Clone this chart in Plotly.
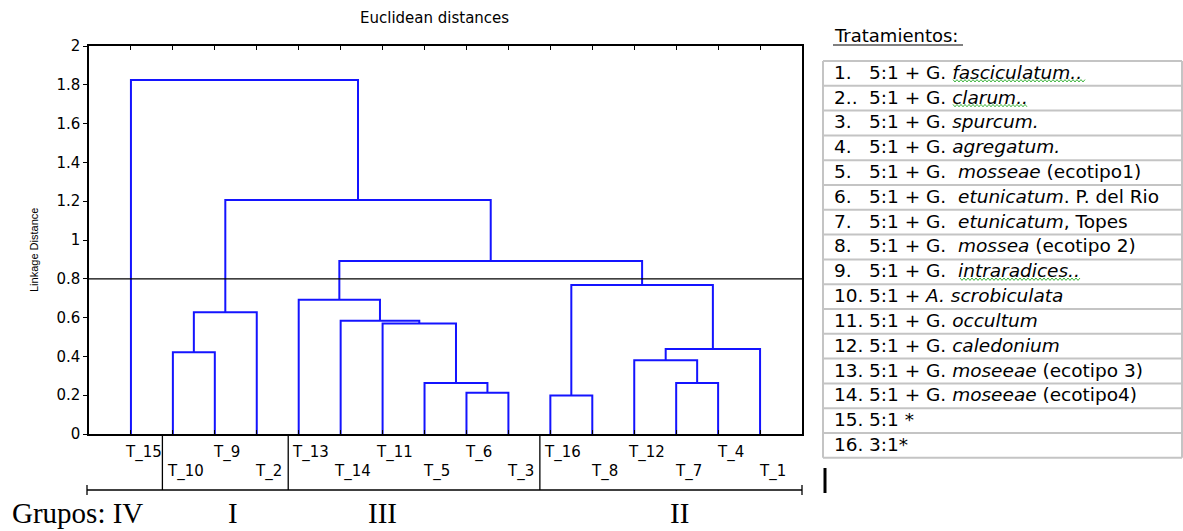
import plotly.graph_objects as go

# ---------------- data ----------------
leaves = ["T_15", "T_10", "T_9", "T_2", "T_13", "T_14", "T_11", "T_5",
          "T_6", "T_3", "T_16", "T_8", "T_12", "T_7", "T_4", "T_1"]

# merges: (left, right, height); ints refer to earlier merges
merge_left = ["T_10", 0, "T_6", "T_5", "T_11", "T_14", "T_13", "T_16", "T_7", "T_12", 9, 7, 6, 1, "T_15"]
merge_right = ["T_9", "T_2", "T_3", 2, 3, 4, 5, "T_8", "T_4", 8, "T_1", 10, 11, 12, 13]
merge_height = [0.421, 0.627, 0.213, 0.263, 0.570, 0.584, 0.692, 0.198,
                0.263, 0.380, 0.438, 0.768, 0.892, 1.206, 1.825]

cut_level = 0.8
y_ticks = [0, 0.2, 0.4, 0.6, 0.8, 1, 1.2, 1.4, 1.6, 1.8, 2]

group_names = ["Grupos: IV", "I", "III", "II"]
group_breaks = [1, 4, 10]  # boundary after these leaf positions

treat_nums = ["1.", "2..", "3.", "4.", "5.", "6.", "7.", "8.", "9.",
              "10.", "11.", "12.", "13.", "14.", "15.", "16."]
treat_texts = [
    "5:1 + G. <i>fasciculatum..</i>",
    "5:1 + G. <i>clarum..</i>",
    "5:1 + G. <i>spurcum.</i>",
    "5:1 + G. <i>agregatum.</i>",
    "5:1 + G.  <i>mosseae</i> (ecotipo1)",
    "5:1 + G.  <i>etunicatum</i>. P. del Rio",
    "5:1 + G.  <i>etunicatum</i>, Topes",
    "5:1 + G.  <i>mossea</i> (ecotipo 2)",
    "5:1 + G.  <i>intraradices..</i>",
    "5:1 + <i>A. scrobiculata</i>",
    "5:1 + G. <i>occultum</i>",
    "5:1 + G. <i>caledonium</i>",
    "5:1 + G. <i>moseeae</i> (ecotipo 3)",
    "5:1 + G. <i>moseeae</i> (ecotipo4)",
    "5:1 *",
    "3:1*",
]
squiggle_rows = [0, 1, 8]

# ---------------- layout geometry ----------------
W, H = 1183, 531
L, R, T, B = 89, 802, 46, 434


def PX(p):
    return (p - L) / (R - L)


def PY(p):
    return (B - p) / (B - T)


BLUE = "#1414ff"
FONT = "DejaVu Sans"

# ---------------- dendrogram ----------------
pos = {name: i + 1 for i, name in enumerate(leaves)}
mx, mh = [], []
xs, ys = [], []


def node(n):
    if isinstance(n, int):
        return mx[n], mh[n]
    return pos[n], 0.0


for a, b, h in zip(merge_left, merge_right, merge_height):
    xa, ha = node(a)
    xb, hb = node(b)
    xs += [xa, xa, xb, xb, None]
    ys += [ha, h, h, hb, None]
    mx.append((xa + xb) / 2)
    mh.append(h)

fig = go.Figure()
fig.add_trace(go.Scatter(x=xs, y=ys, mode="lines",
                         line=dict(color=BLUE, width=2), hoverinfo="skip",
                         showlegend=False))

shapes = []
annotations = []


def note(x, y, text, size, family=FONT, xanchor="center", xref="paper", **kw):
    annotations.append(dict(x=x, xref=xref, y=y, yref="paper", text=text,
                            showarrow=False, xanchor=xanchor, yanchor="middle",
                            font=dict(family=family, size=size, color="black"), **kw))


# cut line
shapes.append(dict(type="line", xref="paper", yref="y", x0=0, x1=1,
                   y0=cut_level, y1=cut_level, line=dict(color="black", width=1.3)))

# leaf labels (staggered)
for i, name in enumerate(leaves):
    row_y = 452 if i % 2 == 0 else 471
    note(pos[name] + 0.29, PY(row_y), name, 15, xref="x")

# group separators
for gb in group_breaks:
    shapes.append(dict(type="line", xref="x", yref="paper", x0=gb + 0.75, x1=gb + 0.75,
                       y0=PY(434), y1=PY(490), line=dict(color="black", width=1.3)))
shapes.append(dict(type="line", xref="paper", yref="paper", x0=PX(87), x1=PX(802),
                   y0=PY(490), y1=PY(490), line=dict(color="black", width=1.3)))
for ex in (87, 802):
    shapes.append(dict(type="line", xref="paper", yref="paper", x0=PX(ex), x1=PX(ex),
                       y0=PY(485), y1=PY(495), line=dict(color="black", width=1.3)))

# group names
group_px = [10, 233, 382, 679]
for gi, (gname, gx) in enumerate(zip(group_names, group_px)):
    note(PX(gx), PY(513), gname, 29, family="Liberation Serif",
         xanchor="left" if gi == 0 else "center")

# title
note(PX(434), PY(18), "Euclidean distances", 15)
# y-axis title
note(PX(34), PY(250), "Linkage Distance", 11, family="Liberation Sans", textangle=-90)

# table
tab_top, row_h = 61, 24.8
tab_l, tab_r = 823, 1182
GRAY = "#c4c4c4"
note(PX(832), PY(35), "Tratamientos:", 18, xanchor="left")
shapes.append(dict(type="line", xref="paper", yref="paper", x0=PX(833), x1=PX(963),
                   y0=PY(45), y1=PY(45), line=dict(color="black", width=1)))
n_rows = len(treat_nums)
for k in range(n_rows + 1):
    yy = tab_top + k * row_h
    shapes.append(dict(type="line", xref="paper", yref="paper", x0=PX(tab_l), x1=PX(tab_r),
                       y0=PY(yy), y1=PY(yy), line=dict(color=GRAY, width=2)))
for ex in (tab_l, tab_r):
    shapes.append(dict(type="line", xref="paper", yref="paper", x0=PX(ex), x1=PX(ex),
                       y0=PY(tab_top), y1=PY(tab_top + n_rows * row_h),
                       line=dict(color=GRAY, width=2)))
for k in range(n_rows):
    yc = tab_top + (k + 0.5) * row_h - 1
    note(PX(832), PY(yc), treat_nums[k], 18.5, xanchor="left")
    note(PX(867), PY(yc), treat_texts[k], 18.5, xanchor="left")

# spell-check squiggles
squig_span = {0: (953, 1085), 1: (953, 1028), 8: (960, 1081)}
for k in squiggle_rows:
    x0, x1 = squig_span[k]
    yb = tab_top + (k + 1) * row_h - 5
    pts = []
    xx = x0
    j = 0
    while xx <= x1:
        pts.append((PX(xx), PY(yb + (1.2 if j % 2 else -1.2))))
        xx += 2
        j += 1
    path = "M " + " L ".join(f"{a:.5f},{b:.5f}" for a, b in pts)
    shapes.append(dict(type="path", xref="paper", yref="paper", path=path,
                       line=dict(color="#3cb43c", width=1)))

# text cursor
shapes.append(dict(type="line", xref="paper", yref="paper", x0=PX(825), x1=PX(825),
                   y0=PY(468), y1=PY(493), line=dict(color="black", width=3)))

fig.update_layout(
    width=W, height=H,
    margin=dict(l=L, r=W - R, t=T, b=H - B, pad=0),
    paper_bgcolor="white", plot_bgcolor="white",
    shapes=shapes, annotations=annotations,
    showlegend=False,
    xaxis=dict(range=[0, len(leaves) + 1], tickvals=list(range(1, len(leaves) + 1)),
               ticks="inside", ticklen=4, tickcolor="black", mirror="allticks",
               showline=True, linecolor="black", linewidth=1.5,
               showticklabels=False, showgrid=False, zeroline=False),
    yaxis=dict(range=[0, 2], tickvals=y_ticks, ticks="outside", ticklen=4,
               tickcolor="black", showline=True, linecolor="black", linewidth=1.5,
               mirror=True, showgrid=False, zeroline=False,
               tickfont=dict(family=FONT, size=15, color="black")),
)

fig.write_html("out.html",
               config={"displayModeBar": False},
               post_script="document.body.style.margin='0';document.body.style.overflow='hidden';")
